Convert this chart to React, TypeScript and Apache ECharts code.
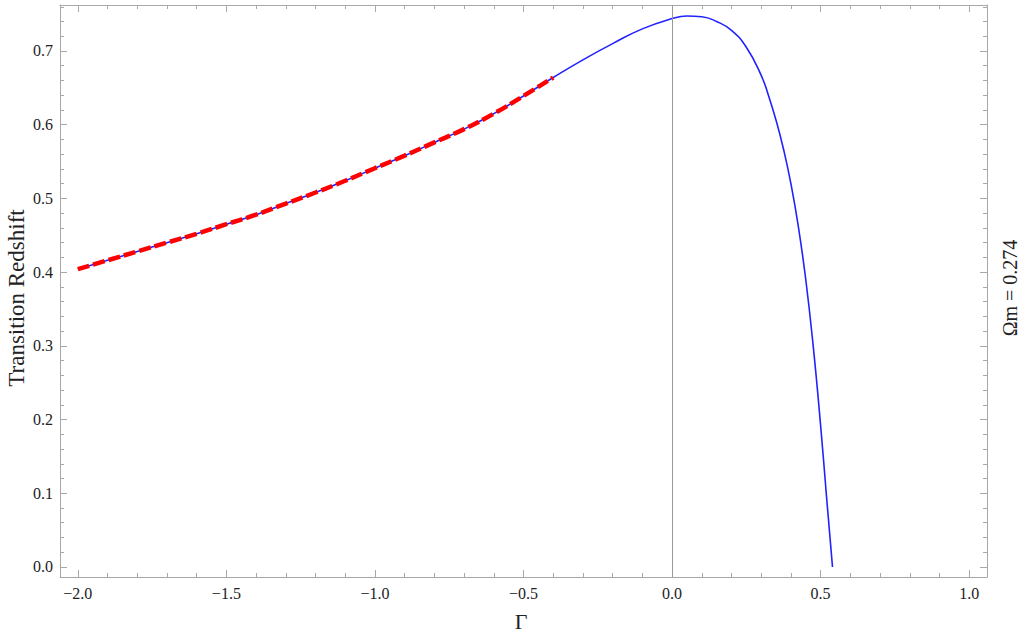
import React, { useEffect, useRef } from "react";
import * as echarts from "echarts";

// Γ values and transition redshift (blue curve, full range)
const gammaBlue = [
  -2.0, -1.9, -1.8, -1.7, -1.6, -1.5, -1.4, -1.3, -1.2, -1.1, -1.0, -0.9, -0.8, -0.7, -0.6, -0.5,
  -0.4, -0.3, -0.2, -0.1, 0.0, 0.05, 0.1, 0.15, 0.2, 0.25, 0.3, 0.325, 0.35, 0.375, 0.4, 0.425,
  0.45, 0.475, 0.5, 0.52, 0.54,
];
const zBlue = [
  0.404, 0.416, 0.428, 0.44, 0.452, 0.465, 0.478, 0.493, 0.508, 0.524, 0.541, 0.558, 0.576, 0.594,
  0.615, 0.639, 0.664, 0.688, 0.71, 0.73, 0.744, 0.7475, 0.7465, 0.74, 0.728, 0.705, 0.667, 0.639,
  0.606, 0.567, 0.52, 0.462, 0.39, 0.3, 0.192, 0.095, 0.0,
];
// red dashed curve (Γ from -2 to -0.4)
const gammaRed = [
  -2.0, -1.9, -1.8, -1.7, -1.6, -1.5, -1.4, -1.3, -1.2, -1.1, -1.0, -0.9, -0.8, -0.7, -0.6, -0.5, -0.4,
];
const zRed = [
  0.404, 0.416, 0.428, 0.44, 0.452, 0.465, 0.478, 0.493, 0.508, 0.524, 0.541, 0.558, 0.576, 0.594,
  0.615, 0.639, 0.664,
];

const xMajorTicks = [-2.0, -1.5, -1.0, -0.5, 0.0, 0.5, 1.0];
const xMinorTicks = Array.from({ length: 31 }, (_, i) => Math.round((-2 + i * 0.1) * 10) / 10);
const yMajorTicks = [0.0, 0.1, 0.2, 0.3, 0.4, 0.5, 0.6, 0.7];
const yMinorTicks = Array.from({ length: 39 }, (_, i) => Math.round(i * 0.02 * 100) / 100);

const X_MIN = -2.06;
const X_MAX = 1.06;
const Y_MIN = -0.0136;
const Y_MAX = 0.7624;

const FONT = "'Liberation Serif', 'Times New Roman', serif";
const FRAME = "#a8a8a8";

const fmt = (v: number) => (v < 0 ? "\u2212" : "") + Math.abs(v).toFixed(1);

function makeX(position: "bottom" | "top", ticks: number[], len: number, labels: boolean, line: boolean) {
  return {
    type: "value",
    position,
    min: X_MIN,
    max: X_MAX,
    splitLine: { show: false },
    axisLine: { show: line, onZero: false, lineStyle: { color: FRAME, width: 1 } },
    axisTick: { show: true, inside: true, length: len, customValues: ticks, lineStyle: { color: FRAME, width: 1 } },
    axisLabel: labels
      ? { show: true, customValues: xMajorTicks, formatter: fmt, fontFamily: FONT, fontSize: 16, color: "#222", margin: 8 }
      : { show: false },
  };
}

function makeY(position: "left" | "right", ticks: number[], len: number, labels: boolean, line: boolean) {
  return {
    type: "value",
    position,
    min: Y_MIN,
    max: Y_MAX,
    splitLine: { show: false },
    axisLine: { show: line, onZero: false, lineStyle: { color: FRAME, width: 1 } },
    axisTick: { show: true, inside: true, length: len, customValues: ticks, lineStyle: { color: FRAME, width: 1 } },
    axisLabel: labels
      ? { show: true, customValues: yMajorTicks, formatter: fmt, fontFamily: FONT, fontSize: 16, color: "#222", margin: 7 }
      : { show: false },
  };
}

export default function App() {
  const ref = useRef<HTMLDivElement>(null);
  useEffect(() => {
    if (!ref.current) return;
    const chart = echarts.init(ref.current, null, { renderer: "svg" });
    const blue = gammaBlue.map((g, i) => [g, zBlue[i]]);
    const red = gammaRed.map((g, i) => [g, zRed[i]]);
    chart.setOption({
      animation: false,
      backgroundColor: "#ffffff",
      textStyle: { fontFamily: FONT },
      grid: { left: 60, right: 37, top: 5, bottom: 57, containLabel: false },
      xAxis: [
        makeX("bottom", xMajorTicks, 7, true, true),
        makeX("bottom", xMinorTicks, 4, false, false),
        makeX("top", xMajorTicks, 7, false, true),
        makeX("top", xMinorTicks, 4, false, false),
      ],
      yAxis: [
        makeY("left", yMajorTicks, 7, true, true),
        makeY("left", yMinorTicks, 4, false, false),
        makeY("right", yMajorTicks, 7, false, true),
        makeY("right", yMinorTicks, 4, false, false),
      ],
      series: [
        {
          type: "line",
          xAxisIndex: 0,
          yAxisIndex: 0,
          data: blue,
          smooth: 0.5,
          showSymbol: false,
          symbol: "none",
          lineStyle: { color: "#2222ff", width: 1.6 },
          markLine: {
            silent: true,
            symbol: "none",
            label: { show: false },
            lineStyle: { color: "#999999", width: 1, type: "solid" },
            data: [{ xAxis: 0 }],
          },
          z: 2,
        },
        {
          type: "line",
          xAxisIndex: 0,
          yAxisIndex: 0,
          data: red,
          smooth: 0.5,
          showSymbol: false,
          symbol: "none",
          lineStyle: { color: "#ff0000", width: 4.5, type: [12, 4], cap: "butt" },
          z: 3,
        },
      ],
      graphic: [
        {
          type: "text",
          x: 16,
          y: 298,
          rotation: Math.PI / 2,
          style: { text: "Transition Redshift", font: `23px 'Liberation Serif', serif`, fill: "#222", align: "center", verticalAlign: "middle" },
        },
        {
          type: "text",
          x: 521,
          y: 621,
          style: { text: "\u0393", font: `22px 'Liberation Serif', serif`, fill: "#222", align: "center", verticalAlign: "middle" },
        },
        {
          type: "text",
          x: 1010,
          y: 288,
          rotation: Math.PI / 2,
          style: { text: "\u03A9m = 0.274", font: `20px 'Liberation Serif', serif`, fill: "#222", align: "center", verticalAlign: "middle" },
        },
      ],
    });
    return () => chart.dispose();
  }, []);
  return <div ref={ref} style={{ position: "absolute", left: 0, top: 0, width: 1024, height: 634 }} />;
}
